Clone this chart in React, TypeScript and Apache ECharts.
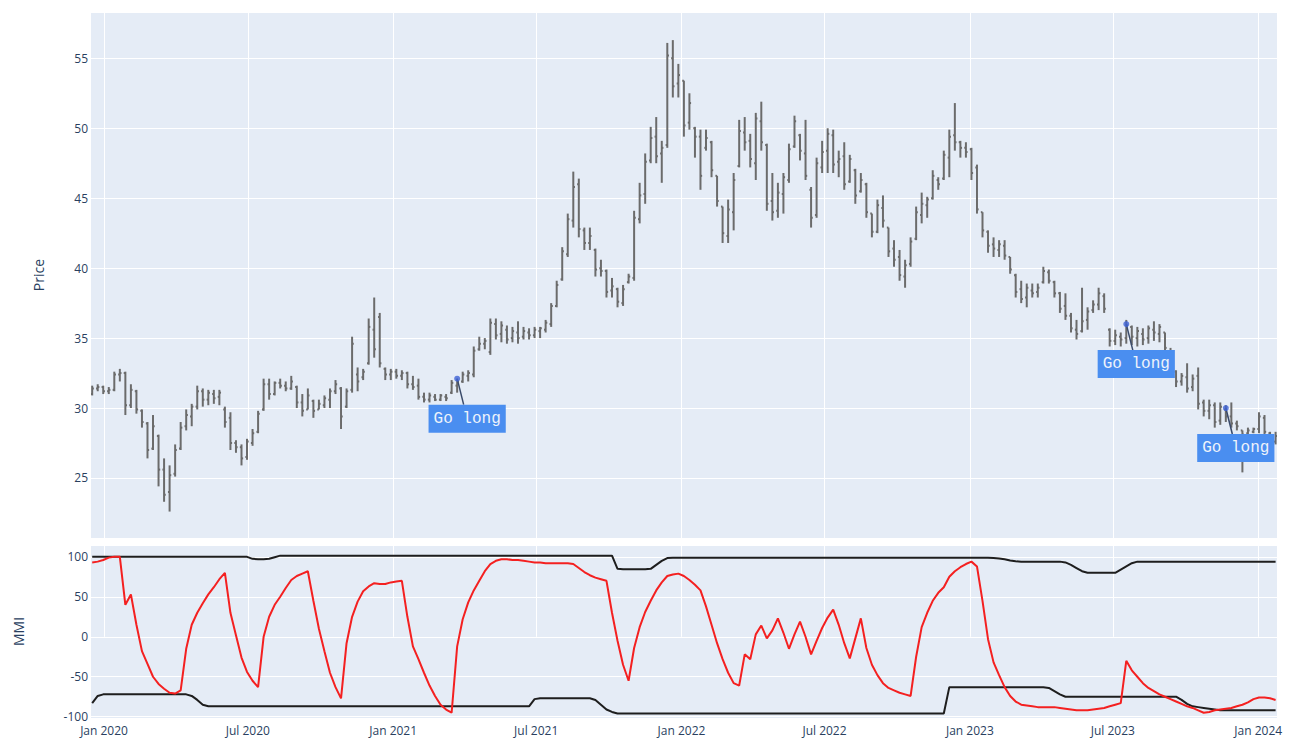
import React, { useEffect, useRef } from 'react';
import * as echarts from 'echarts';

const FIRST_WEEK = Date.UTC(2019, 11, 17);
const WEEK_MS = 7 * 24 * 3600 * 1000;
const X_MIN = Date.UTC(2019, 11, 15, 12);
const X_MAX = Date.UTC(2024, 0, 24, 19);

const opens = [
  31.0, 31.4, 31.5, 31.2, 31.3, 32.4, 32.5, 30.2, 31.2, 29.8,
  28.9, 27.1, 28.0, 25.6, 24.0, 25.3, 27.1, 28.7, 29.4, 30.1,
  31.2, 30.6, 31.0, 30.8, 29.9, 29.3, 27.5, 27.2, 26.5, 27.5,
  28.3, 29.9, 31.7, 31.0, 31.8, 31.6, 31.4, 31.5, 30.4, 29.9,
  30.5, 29.9, 30.2, 30.6, 31.2, 31.4, 30.1, 31.3, 32.4, 32.2,
  33.2, 35.6, 36.5, 32.8, 32.4, 32.6, 32.3, 32.5, 31.7, 31.6,
  30.8, 30.6, 30.8, 30.6, 30.8, 31.1, 31.6, 31.9, 32.3, 32.4,
  34.2, 34.6, 34.0, 36.0, 35.3, 35.6, 35.0, 35.4, 35.1, 35.4,
  35.2, 35.5, 35.6, 36.0, 37.3, 39.2, 41.0, 43.4, 46.0, 42.7,
  41.8, 41.3, 40.0, 39.8, 38.4, 38.5, 37.5, 39.0, 39.3, 43.5,
  45.3, 47.7, 49.4, 48.2, 48.8, 55.0, 53.2, 53.4, 50.4, 50.0,
  49.4, 48.6, 49.0, 46.6, 44.4, 42.3, 44.0, 47.3, 49.7, 49.1,
  47.5, 50.5, 48.8, 44.8, 44.1, 45.3, 46.3, 48.7, 49.5, 48.2,
  45.6, 43.8, 47.2, 48.4, 49.5, 47.6, 48.0, 46.2, 47.0, 45.5,
  46.0, 43.9, 42.6, 44.3, 42.9, 41.4, 40.8, 39.4, 40.3, 42.1,
  43.8, 44.5, 45.0, 46.3, 46.4, 47.9, 49.5, 49.0, 48.6, 48.5,
  47.2, 44.0, 42.6, 41.7, 41.3, 41.6, 40.8, 39.5, 38.5, 37.9,
  38.4, 38.3, 39.0, 39.7, 39.0, 38.2, 37.3, 36.6, 35.6, 35.5,
  36.3, 37.0, 37.4, 38.0, 35.6, 34.8, 35.1, 35.0, 35.8, 35.0,
  35.3, 35.0, 35.6, 35.3, 35.4, 34.0, 32.6, 31.9, 32.2, 31.5,
  32.3, 30.4, 29.8, 30.2, 29.1, 29.9, 29.4, 28.9, 28.4, 28.2,
  28.3, 28.5, 29.3, 28.2, 27.6,
];

const highs = [
  31.6, 31.7, 31.6, 31.5, 32.6, 32.8, 32.6, 31.7, 31.3, 29.9,
  29.0, 29.5, 28.1, 26.4, 25.9, 27.4, 29.0, 29.9, 30.3, 31.6,
  31.4, 31.3, 31.3, 31.3, 30.1, 29.7, 27.7, 27.4, 27.8, 28.5,
  29.8, 32.1, 32.1, 31.9, 32.1, 31.9, 32.3, 31.6, 31.0, 31.4,
  30.6, 30.6, 30.9, 31.4, 32.0, 31.5, 31.4, 35.1, 32.9, 32.8,
  36.4, 37.9, 36.8, 32.9, 32.8, 32.8, 32.7, 32.6, 32.3, 32.1,
  31.1, 31.1, 31.0, 31.0, 31.0, 32.0, 32.1, 32.6, 32.7, 34.4,
  35.1, 35.0, 36.4, 36.4, 36.2, 35.9, 35.8, 36.2, 35.8, 35.7,
  35.8, 35.8, 36.3, 37.5, 39.1, 41.5, 43.9, 46.9, 46.4, 42.9,
  42.9, 41.4, 40.6, 39.9, 39.3, 38.6, 38.8, 39.6, 44.1, 46.1,
  48.2, 50.1, 50.8, 49.1, 56.1, 56.3, 54.6, 53.4, 52.5, 50.1,
  49.9, 49.9, 49.1, 46.6, 44.4, 44.9, 46.8, 50.6, 50.8, 49.6,
  51.1, 51.9, 48.9, 46.8, 46.1, 46.8, 48.9, 50.9, 49.6, 50.6,
  45.8, 47.9, 49.1, 50.0, 49.9, 48.4, 49.0, 48.1, 47.1, 46.8,
  46.1, 43.9, 44.9, 45.2, 42.9, 42.0, 41.3, 40.6, 42.2, 44.4,
  45.4, 45.1, 47.0, 46.5, 48.4, 49.9, 51.8, 49.1, 49.0, 48.6,
  47.4, 44.0, 42.7, 42.2, 42.0, 42.0, 40.8, 39.6, 39.1, 38.9,
  38.9, 38.9, 40.1, 39.9, 39.1, 38.3, 38.2, 36.8, 36.3, 38.6,
  37.2, 37.7, 38.6, 38.2, 35.7, 35.6, 35.4, 36.3, 35.9, 35.8,
  35.7, 35.9, 36.2, 36.0, 35.4, 34.3, 32.7, 32.5, 33.2, 32.4,
  32.9, 30.6, 30.6, 30.4, 30.4, 30.2, 30.4, 29.1, 28.4, 28.6,
  28.6, 29.7, 29.5, 28.3, 28.3,
];

const lows = [
  30.9, 31.2, 31.0, 31.0, 31.2, 31.9, 29.5, 30.0, 29.6, 28.6,
  26.4, 27.0, 24.4, 23.3, 22.6, 25.1, 27.0, 28.4, 28.7, 29.9,
  30.1, 30.2, 30.3, 30.2, 28.6, 27.0, 26.8, 25.9, 26.3, 27.3,
  28.2, 29.8, 30.6, 30.9, 31.4, 31.2, 31.3, 30.0, 29.4, 29.9,
  29.3, 29.9, 30.0, 30.0, 31.0, 28.5, 30.0, 31.1, 31.2, 32.0,
  33.1, 33.6, 32.9, 32.0, 32.0, 32.1, 32.0, 31.4, 31.3, 30.6,
  30.4, 30.4, 30.5, 30.5, 30.5, 31.0, 31.1, 31.8, 31.9, 32.2,
  34.1, 34.2, 33.8, 34.9, 34.7, 34.6, 34.7, 34.6, 34.9, 34.9,
  35.0, 35.0, 35.4, 35.8, 37.2, 39.1, 40.8, 42.9, 42.2, 41.3,
  41.3, 39.4, 39.4, 37.9, 37.9, 37.2, 37.3, 38.9, 39.1, 43.2,
  44.6, 47.5, 47.5, 46.1, 48.6, 52.2, 52.2, 49.4, 49.9, 47.9,
  45.6, 48.4, 46.5, 44.4, 41.8, 41.8, 42.7, 47.2, 48.4, 47.2,
  46.3, 48.4, 44.1, 43.4, 43.6, 43.9, 46.1, 48.6, 47.7, 46.3,
  42.9, 43.6, 46.8, 46.8, 46.8, 46.5, 45.6, 46.1, 44.6, 45.4,
  43.6, 42.2, 42.5, 42.9, 40.8, 40.1, 39.1, 38.6, 40.1, 42.0,
  43.2, 43.6, 44.9, 45.6, 46.3, 46.5, 48.4, 47.9, 47.9, 46.3,
  43.9, 42.2, 41.1, 40.8, 40.8, 40.6, 39.6, 37.9, 37.5, 37.2,
  37.9, 37.9, 38.9, 38.9, 37.9, 36.8, 36.3, 35.4, 34.9, 35.4,
  35.6, 36.8, 37.0, 36.8, 34.4, 34.5, 34.4, 34.6, 34.5, 34.4,
  34.5, 34.6, 34.8, 34.7, 34.1, 32.6, 31.5, 31.6, 31.1, 31.2,
  29.9, 29.4, 29.2, 28.6, 28.8, 29.0, 28.6, 28.4, 25.4, 28.0,
  28.2, 28.2, 28.0, 27.3, 27.4,
];

const closes = [
  31.4, 31.5, 31.2, 31.3, 32.4, 32.5, 30.2, 31.3, 29.9, 29.0,
  27.0, 28.7, 25.6, 23.8, 25.2, 27.0, 28.6, 29.5, 30.1, 31.2,
  30.6, 31.1, 30.7, 31.1, 29.0, 27.5, 27.2, 26.4, 27.6, 28.2,
  29.6, 31.7, 31.0, 31.8, 31.6, 31.4, 31.9, 30.4, 29.8, 30.9,
  29.8, 30.3, 30.7, 31.2, 31.7, 29.4, 31.2, 34.6, 31.9, 32.6,
  35.8, 34.2, 33.2, 32.4, 32.6, 32.3, 32.5, 31.7, 31.5, 30.8,
  30.6, 30.9, 30.6, 30.9, 30.7, 31.8, 31.9, 32.4, 32.5, 34.1,
  34.6, 34.8, 36.1, 35.2, 35.9, 34.9, 35.5, 35.0, 35.5, 35.2,
  35.6, 35.7, 36.1, 37.3, 38.8, 41.2, 43.5, 45.8, 42.8, 41.8,
  42.3, 39.9, 39.8, 38.3, 38.7, 37.6, 38.5, 39.4, 43.6, 45.2,
  47.6, 49.3, 48.0, 48.6, 55.2, 53.0, 53.8, 50.2, 51.8, 49.4,
  46.6, 49.3, 47.0, 44.8, 42.5, 44.2, 46.3, 49.8, 49.0, 47.8,
  50.7, 49.0, 44.6, 44.0, 45.4, 46.5, 48.5, 50.5, 48.4, 46.6,
  43.6, 47.5, 48.3, 49.6, 47.4, 47.8, 46.0, 47.8, 45.2, 46.3,
  44.0, 42.6, 44.5, 43.4, 41.2, 40.6, 39.5, 40.2, 41.9, 44.0,
  44.6, 44.9, 46.6, 46.0, 48.1, 49.4, 49.0, 48.6, 48.3, 46.8,
  44.2, 42.7, 41.6, 41.4, 41.7, 40.9, 39.9, 38.3, 37.8, 38.6,
  38.2, 38.6, 39.8, 39.1, 38.2, 37.1, 36.6, 35.7, 35.3, 36.2,
  36.9, 37.4, 38.2, 37.1, 34.8, 35.2, 34.9, 35.9, 35.1, 35.5,
  34.9, 35.7, 35.4, 35.8, 34.3, 32.9, 31.9, 32.3, 31.4, 32.1,
  30.3, 29.8, 30.2, 29.0, 30.1, 29.4, 28.9, 28.7, 28.1, 28.4,
  28.5, 29.4, 28.3, 27.6, 28.0,
];

const mmi = [
  93, 94, 96, 99, 100, 100, 40, 53, 15, -18,
  -34, -50, -59, -65, -70, -71, -67, -15, 15, 30,
  42, 53, 62, 72, 80, 30, 2, -26, -44, -55,
  -63, 0, 25, 40, 50, 61, 71, 76, 79, 82,
  45, 10, -18, -45, -63, -77, -8, 25, 44, 57,
  63, 67, 66, 66, 68, 69, 70, 25, -12, -28,
  -45, -61, -74, -85, -91, -95, -12, 22, 43, 58,
  70, 82, 91, 95, 97, 97, 96, 96, 95, 94,
  93, 93, 92, 92, 92, 92, 92, 91, 86, 81,
  77, 74, 72, 70, 30, -5, -35, -55, -14, 12,
  31, 45, 58, 68, 76, 78, 79, 76, 71, 65,
  58, 38, 15, -8, -28, -45, -58, -61, -22, -28,
  3, 14, -2, 8, 23, 5, -15, 3, 19, 0,
  -22, -5, 11, 24, 34, 15, -8, -27, -2, 23,
  -14, -35, -48, -58, -64, -67, -70, -72, -74, -25,
  12, 30, 45, 55, 62, 75, 82, 87, 91, 94,
  88, 45, -3, -32, -48, -63, -74, -81, -85, -86,
  -87, -88, -88, -88, -88, -89, -90, -91, -92, -92,
  -92, -91, -90, -89, -87, -85, -83, -30, -42, -50,
  -58, -64, -68, -72, -75, -78, -81, -84, -87, -89,
  -92, -95, -94, -92, -91, -90, -89, -87, -85, -82,
  -78, -76, -76, -77, -79,
];

const upperBand = [
  100, 100, 100, 100, 100, 100, 100, 100, 100, 100,
  100, 100, 100, 100, 100, 100, 100, 100, 100, 100,
  100, 100, 100, 100, 100, 100, 100, 100, 100, 97.5,
  97, 97, 97.5, 99.5, 101.5, 101.5, 101.5, 101.5, 101.5, 101.5,
  101.5, 101.5, 101.5, 101.5, 101.5, 101.5, 101.5, 101.5, 101.5, 101.5,
  101.5, 101.5, 101.5, 101.5, 101.5, 101.5, 101.5, 101.5, 101.5, 101.5,
  101.5, 101.5, 101.5, 101.5, 101.5, 101.5, 101.5, 101.5, 101.5, 101.5,
  101.5, 101.5, 101.5, 101.5, 101.5, 101.5, 101.5, 101.5, 101.5, 101.5,
  101.5, 101.5, 101.5, 101.5, 101.5, 101.5, 101.5, 101.5, 101.5, 101.5,
  101.5, 101.5, 101.5, 101.5, 101.5, 85, 84.5, 84.5, 84.5, 84.5,
  84.5, 85, 90, 95, 98.5, 99, 99, 99, 99, 99,
  99, 99, 99, 99, 99, 99, 99, 99, 99, 99,
  99, 99, 99, 99, 99, 99, 99, 99, 99, 99,
  99, 99, 99, 99, 99, 99, 99, 99, 99, 99,
  99, 99, 99, 99, 99, 99, 99, 99, 99, 99,
  99, 99, 99, 99, 99, 99, 99, 99, 99, 99,
  99, 99, 99, 98.5, 98, 97, 95.5, 94.5, 94, 94,
  94, 94, 94, 94, 94, 94, 93, 90, 86, 82,
  80, 80, 80, 80, 80, 80, 84, 88, 92, 94,
  94, 94, 94, 94, 94, 94, 94, 94, 94, 94,
  94, 94, 94, 94, 94, 94, 94, 94, 94, 94,
  94, 94, 94, 94, 94,
];

const lowerBand = [
  -83, -74, -72, -72, -72, -72, -72, -72, -72, -72,
  -72, -72, -72, -72, -72, -72, -72, -72, -74, -79,
  -85, -87, -87, -87, -87, -87, -87, -87, -87, -87,
  -87, -87, -87, -87, -87, -87, -87, -87, -87, -87,
  -87, -87, -87, -87, -87, -87, -87, -87, -87, -87,
  -87, -87, -87, -87, -87, -87, -87, -87, -87, -87,
  -87, -87, -87, -87, -87, -87, -87, -87, -87, -87,
  -87, -87, -87, -87, -87, -87, -87, -87, -87, -87,
  -78, -77, -77, -77, -77, -77, -77, -77, -77, -77,
  -77, -79, -85, -91, -94, -96, -96, -96, -96, -96,
  -96, -96, -96, -96, -96, -96, -96, -96, -96, -96,
  -96, -96, -96, -96, -96, -96, -96, -96, -96, -96,
  -96, -96, -96, -96, -96, -96, -96, -96, -96, -96,
  -96, -96, -96, -96, -96, -96, -96, -96, -96, -96,
  -96, -96, -96, -96, -96, -96, -96, -96, -96, -96,
  -96, -96, -96, -96, -96, -63, -63, -63, -63, -63,
  -63, -63, -63, -63, -63, -63, -63, -63, -63, -63,
  -63, -63, -63, -64, -68, -72, -75, -75, -75, -75,
  -75, -75, -75, -75, -75, -75, -75, -75, -75, -75,
  -75, -75, -75, -75, -75, -75, -75, -79, -84, -87,
  -88, -89, -90, -91, -92, -92, -92, -92, -92, -92,
  -92, -92, -92, -92, -92,
];

const signalWeeks = [66, 187, 205];
const signalPrices = [32.1, 36.0, 30.0];
const signalText = 'Go long';

const xTickDates = [
  Date.UTC(2020, 0, 1), Date.UTC(2020, 6, 1), Date.UTC(2021, 0, 1), Date.UTC(2021, 6, 1),
  Date.UTC(2022, 0, 1), Date.UTC(2022, 6, 1), Date.UTC(2023, 0, 1), Date.UTC(2023, 6, 1),
  Date.UTC(2024, 0, 1),
];
const MONTHS = ['Jan', 'Feb', 'Mar', 'Apr', 'May', 'Jun', 'Jul', 'Aug', 'Sep', 'Oct', 'Nov', 'Dec'];

const BG = '#E5ECF6';
const TXT = '#2a3f5f';
const FONT = '"Open Sans", Verdana, Arial, sans-serif';
const BAR_COLOR = '#6b6b6b';
const MAIN_H = 526;
const MMI_H = 173;

export default function App() {
  const ref = useRef<HTMLDivElement>(null);

  useEffect(() => {
    document.body.style.margin = '0';
    document.body.style.overflow = 'hidden';
    const chart = echarts.init(ref.current!, undefined, { renderer: 'svg' });
    const weekDates = opens.map((_, i) => FIRST_WEEK + i * WEEK_MS);
    const ohlc = weekDates.map((t, i) => [t, opens[i], highs[i], lows[i], closes[i]]);
    const line = (arr: number[]) => weekDates.map((t, i) => [t, arr[i]]);
    const fmt = (v: number) => {
      const d = new Date(v);
      return `${MONTHS[d.getUTCMonth()]} ${d.getUTCFullYear()}`;
    };

    const xCommon = (gridH: number) => ({
      type: 'value',
      min: X_MIN,
      max: X_MAX,
      axisLine: { show: false },
      // white vertical grid lines at Jan / Jul, drawn as full-height inside ticks
      axisTick: {
        show: true,
        inside: true,
        length: gridH,
        customValues: xTickDates,
        lineStyle: { color: '#ffffff', width: 1 },
      },
      splitLine: { show: false },
    });
    const yCommon = {
      type: 'value',
      axisLine: { show: false },
      axisTick: { show: false },
      splitLine: { show: true, lineStyle: { color: '#ffffff', width: 1 } },
      nameLocation: 'middle',
      nameRotate: 90,
      nameMoveOverlap: false,
      nameTextStyle: { color: TXT, fontSize: 14, fontFamily: FONT },
    };

    const option: any = {
      animation: false,
      backgroundColor: '#ffffff',
      textStyle: { fontFamily: FONT },
      grid: [
        { show: true, backgroundColor: BG, borderWidth: 0, left: 91, top: 12, width: 1186, height: MAIN_H, containLabel: false, outerBoundsMode: 'none' },
        { show: true, backgroundColor: BG, borderWidth: 0, left: 91, top: 545, width: 1186, height: MMI_H, containLabel: false, outerBoundsMode: 'none' },
      ],
      xAxis: [
        { ...xCommon(MAIN_H), gridIndex: 0, axisLabel: { show: false } },
        {
          ...xCommon(MMI_H),
          gridIndex: 1,
          axisLabel: {
            show: true,
            customValues: xTickDates,
            formatter: fmt,
            color: TXT,
            fontSize: 12,
            fontFamily: FONT,
            margin: 6,
            hideOverlap: false,
          },
        },
      ],
      yAxis: [
        {
          ...yCommon,
          gridIndex: 0,
          min: 20.71,
          max: 58.31,
          splitNumber: 8,
          name: 'Price',
          nameGap: 46,
          axisLabel: { color: TXT, fontSize: 12, fontFamily: FONT, margin: 3, showMinLabel: false, showMaxLabel: false },
        },
        {
          ...yCommon,
          gridIndex: 1,
          min: -101.6,
          max: 114.8,
          splitNumber: 4,
          name: 'MMI',
          nameGap: 66,
          axisLabel: { color: TXT, fontSize: 12, fontFamily: FONT, margin: 3, showMinLabel: false, showMaxLabel: false },
        },
      ],
      series: [
        {
          type: 'custom',
          name: 'Price',
          xAxisIndex: 0,
          yAxisIndex: 0,
          clip: true,
          encode: { x: 0, y: [1, 2, 3, 4] },
          data: ohlc,
          renderItem: (params: any, api: any) => {
            const t = api.value(0);
            const pO = api.coord([t, api.value(1)]);
            const pH = api.coord([t, api.value(2)]);
            const pL = api.coord([t, api.value(3)]);
            const pC = api.coord([t, api.value(4)]);
            const tick = api.size([WEEK_MS, 0])[0] * 0.3;
            const x = pO[0];
            const st = { stroke: BAR_COLOR, lineWidth: 2, fill: null };
            return {
              type: 'group',
              children: [
                { type: 'line', shape: { x1: x, y1: pH[1], x2: x, y2: pL[1] }, style: st },
                { type: 'line', shape: { x1: x - tick, y1: pO[1], x2: x, y2: pO[1] }, style: st },
                { type: 'line', shape: { x1: x, y1: pC[1], x2: x + tick, y2: pC[1] }, style: st },
              ],
            };
          },
          z: 2,
        },
        {
          type: 'scatter',
          name: 'signals',
          xAxisIndex: 0,
          yAxisIndex: 0,
          data: signalWeeks.map((w, k) => [weekDates[w], signalPrices[k]]),
          symbol: 'circle',
          symbolSize: 6,
          itemStyle: { color: '#3f63d6' },
          z: 6,
        },
        {
          type: 'line',
          name: 'upper',
          xAxisIndex: 1,
          yAxisIndex: 1,
          data: line(upperBand),
          showSymbol: false,
          lineStyle: { color: '#1e1e1e', width: 2 },
          itemStyle: { color: '#1e1e1e' },
          z: 2,
        },
        {
          type: 'line',
          name: 'lower',
          xAxisIndex: 1,
          yAxisIndex: 1,
          data: line(lowerBand),
          showSymbol: false,
          lineStyle: { color: '#1e1e1e', width: 2 },
          itemStyle: { color: '#1e1e1e' },
          z: 2,
        },
        {
          type: 'line',
          name: 'MMI',
          xAxisIndex: 1,
          yAxisIndex: 1,
          data: line(mmi),
          showSymbol: false,
          lineStyle: { color: '#f42020', width: 2 },
          itemStyle: { color: '#f42020' },
          z: 3,
        },
      ],
    };

    chart.setOption(option);

    const graphics: any[] = [];
    signalWeeks.forEach((w, k) => {
      const p = chart.convertToPixel({ xAxisIndex: 0, yAxisIndex: 0 } as any, [weekDates[w], signalPrices[k]]) as number[];
      if (!p) return;
      const [px, py] = p;
      const bx = px + 10;
      const by = py + 40;
      graphics.push({
        type: 'line',
        shape: { x1: px + 6.5, y1: py + 26, x2: px, y2: py },
        style: { stroke: '#3a4a6a', lineWidth: 1.5 },
        z: 5,
      });
      graphics.push({
        type: 'text',
        x: bx,
        y: by,
        style: {
          text: signalText,
          fill: '#eef3fb',
          fontFamily: '"Liberation Mono", "Courier New", monospace',
          fontSize: 16,
          align: 'center',
          verticalAlign: 'middle',
          backgroundColor: '#4a8ef0',
          padding: [6, 5],
        },
        z: 7,
      });
    });
    chart.setOption({ graphic: graphics });

    return () => chart.dispose();
  }, []);

  return <div ref={ref} style={{ width: 1292, height: 741 }} />;
}
